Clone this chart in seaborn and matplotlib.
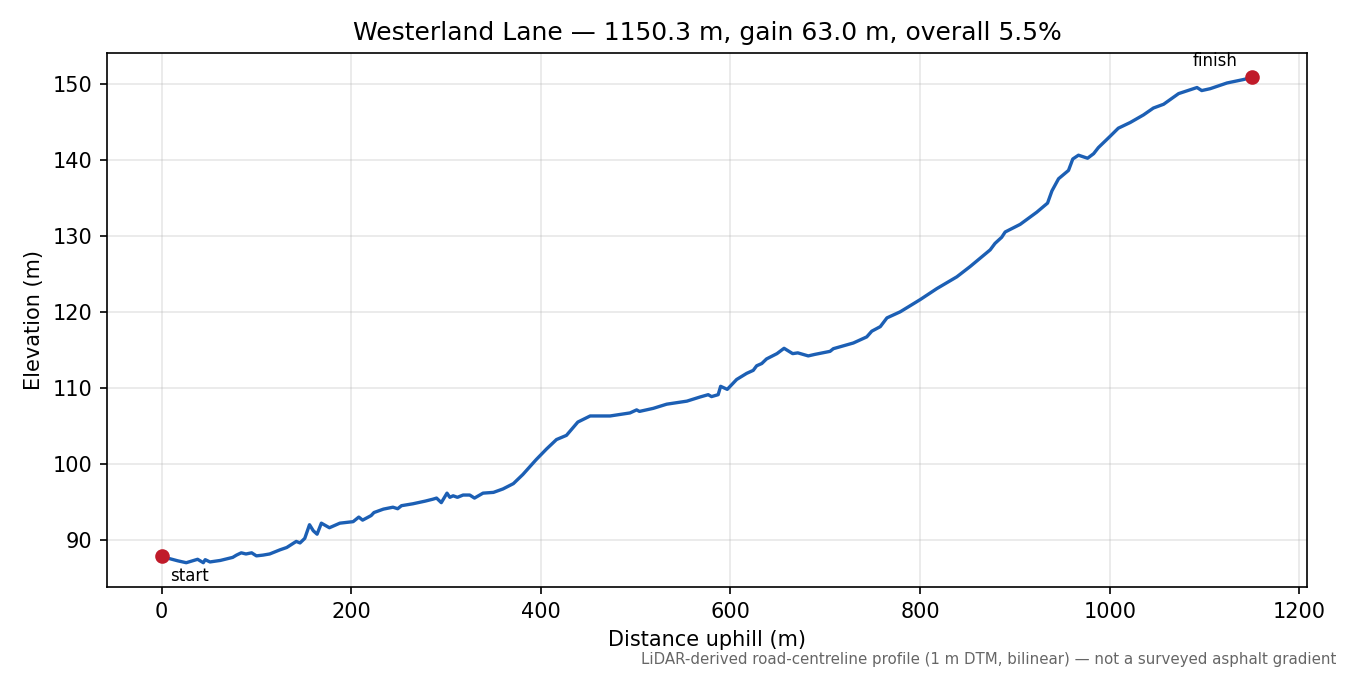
import matplotlib
matplotlib.use('Agg')
import matplotlib.pyplot as plt
import seaborn as sns
import pandas as pd

# profile (distance along road, elevation)
distance = [0, 8, 17, 26, 38, 44, 46, 51, 62, 75, 79, 84, 89, 95, 100, 107, 114, 125, 132,
            142, 146, 151, 156, 160, 164, 168.5, 177, 188, 202, 208, 212, 221, 224, 234, 244,
            249, 253, 265, 278, 286, 290, 295, 301, 304, 307.5, 312, 318, 325, 330, 339, 350,
            360, 371, 381, 395, 406, 416.5, 427, 439, 452, 473, 494, 501, 504, 518.5, 532.7,
            554, 568, 576.5, 580, 587, 589.6, 596.6, 606.5, 617, 624, 627.6, 633, 638, 649,
            656.5, 665.6, 671, 682, 689, 705, 708.5, 729.6, 743.7, 749, 758, 765, 779, 800,
            817.6, 838.7, 852.8, 873.9, 879, 886, 889.7, 905.5, 923, 934.4, 939, 946, 956.5,
            961, 967, 976.6, 983, 988, 1000.5, 1009, 1021.6, 1035.6, 1046, 1056.8, 1072.6,
            1092, 1097, 1106, 1123.7, 1141, 1150.3]
elevation = [87.85, 87.55, 87.25, 87.0, 87.45, 87.0, 87.4, 87.1, 87.3, 87.7, 88.0, 88.3, 88.15,
             88.3, 87.9, 88.0, 88.15, 88.7, 89.0, 89.8, 89.6, 90.2, 92.0, 91.2, 90.75, 92.2,
             91.6, 92.2, 92.4, 93.0, 92.6, 93.2, 93.6, 94.05, 94.3, 94.1, 94.5, 94.75, 95.1,
             95.35, 95.5, 94.9, 96.15, 95.6, 95.8, 95.6, 95.9, 95.9, 95.5, 96.15, 96.25, 96.7,
             97.4, 98.6, 100.55, 101.96, 103.2, 103.75, 105.5, 106.3, 106.3, 106.7, 107.1,
             106.9, 107.3, 107.85, 108.25, 108.8, 109.1, 108.85, 109.1, 110.2, 109.8, 111.1,
             111.9, 112.3, 112.9, 113.2, 113.8, 114.5, 115.2, 114.5, 114.6, 114.2, 114.4,
             114.8, 115.15, 115.9, 116.7, 117.45, 118.05, 119.2, 120.0, 121.6, 123.05, 124.6,
             125.96, 128.15, 129.0, 129.8, 130.5, 131.5, 133.1, 134.3, 135.9, 137.5, 138.6,
             140.1, 140.6, 140.2, 140.8, 141.6, 143.1, 144.15, 144.9, 145.9, 146.8, 147.3,
             148.7, 149.5, 149.1, 149.35, 150.1, 150.55, 150.85]

df = pd.DataFrame({'distance': distance, 'elevation': elevation})
total = distance[-1]
gain = elevation[-1] - elevation[0]

fig, ax = plt.subplots(figsize=(9, 4.5), dpi=150)
sns.lineplot(data=df, x='distance', y='elevation', color='#1c5fb4', linewidth=1.6, ax=ax)
ax.scatter([distance[0], distance[-1]], [elevation[0], elevation[-1]], color='#c01b2a', s=36, zorder=5)
ax.annotate('start', (distance[0], elevation[0]), xytext=(4, -5), textcoords='offset points',
            ha='left', va='top', fontsize=8)
ax.annotate('finish', (distance[-1], elevation[-1]), xytext=(-7, 3.5), textcoords='offset points',
            ha='right', va='bottom', fontsize=8)

ax.grid(True, alpha=0.3)
ax.set_xlabel('Distance uphill (m)')
ax.set_ylabel('Elevation (m)')
ax.set_title(f'Westerland Lane — {total:.1f} m, gain {gain:.1f} m, overall {gain / total * 100:.1f}%')
fig.text(0.99, 0.012, 'LiDAR-derived road-centreline profile (1 m DTM, bilinear) — not a surveyed asphalt gradient',
         ha='right', va='bottom', fontsize=7.2, color='#666666')
plt.subplots_adjust(left=0.0793, right=0.968, top=0.9215, bottom=0.1304)
plt.savefig('out.png')
